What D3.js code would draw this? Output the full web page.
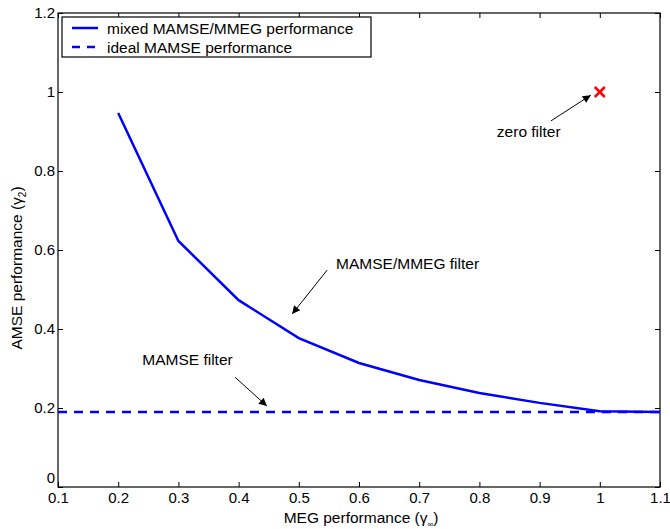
<!DOCTYPE html>
<html>
<head>
<meta charset="utf-8">
<script src="https://cdn.jsdelivr.net/npm/d3@7"></script>
<style>
  body { margin: 0; background: white; }
  text { font-family: "Liberation Sans", Arial, sans-serif; fill: #000; }
</style>
</head>
<body>
<svg width="670" height="529"></svg>
<script>
// data
var megValues = [0.2, 0.3, 0.4, 0.5, 0.6, 0.7, 0.8, 0.9, 1.0, 1.1];
var mixedAmse = [0.947, 0.623, 0.473, 0.377, 0.314, 0.271, 0.238, 0.213, 0.192, 0.19];
var idealX = [0.1, 1.1];
var idealAmse = [0.19, 0.19];
var zeroFilter = [1.0, 1.0];
var xTicks = [0.1, 0.2, 0.3, 0.4, 0.5, 0.6, 0.7, 0.8, 0.9, 1, 1.1];
var yTicks = [0, 0.2, 0.4, 0.6, 0.8, 1, 1.2];
var legendLabels = ["mixed MAMSE/MMEG performance", "ideal MAMSE performance"];

var margin = {top: 13, right: 10, bottom: 42, left: 58},
    width = 670 - margin.left - margin.right,
    height = 529 - margin.top - margin.bottom;

var svg = d3.select("svg");
var g = svg.append("g")
    .attr("transform", "translate(" + margin.left + "," + margin.top + ")");

var x = d3.scaleLinear().domain([0.1, 1.1]).range([0, width]),
    y = d3.scaleLinear().domain([0, 1.2]).range([height, 0]);

var fmt = function(d) { return String(+d.toFixed(1)); };

// axes with inward ticks, box style
function styleAxis(sel) {
  sel.select(".domain").remove();
  sel.selectAll("line").attr("stroke", "#000");
  sel.selectAll("text").style("font-size", "15px");
}
g.append("g")
    .attr("transform", "translate(0," + height + ")")
    .call(d3.axisBottom(x).tickValues(xTicks).tickFormat(fmt).tickSizeInner(-5).tickSizeOuter(0).tickPadding(5))
    .call(styleAxis);
g.append("g")
    .call(d3.axisTop(x).tickValues(xTicks).tickFormat("").tickSizeInner(-5).tickSizeOuter(0))
    .call(styleAxis);
var yAxis = g.append("g")
    .call(d3.axisLeft(y).tickValues(yTicks).tickFormat(fmt).tickSizeInner(-5).tickSizeOuter(0).tickPadding(3))
    .call(styleAxis);
// the "0" sits just above the corner like in the reference
yAxis.selectAll("text").filter(function(d) { return d === 0; }).attr("dy", "-0.3em");
g.append("g")
    .attr("transform", "translate(" + width + ",0)")
    .call(d3.axisRight(y).tickValues(yTicks).tickFormat("").tickSizeInner(-5).tickSizeOuter(0))
    .call(styleAxis);

g.append("rect")
    .attr("width", width).attr("height", height)
    .attr("fill", "none").attr("stroke", "#000").attr("stroke-width", 1.2);

// lines
var line = d3.line().x(function(d) { return x(d[0]); }).y(function(d) { return y(d[1]); });
g.append("path")
    .datum(d3.zip(idealX, idealAmse))
    .attr("d", line)
    .attr("fill", "none").attr("stroke", "#0000ff").attr("stroke-width", 2.5)
    .attr("stroke-dasharray", "9,7");
g.append("path")
    .datum(d3.zip(megValues, mixedAmse))
    .attr("d", line)
    .attr("fill", "none").attr("stroke", "#0000ff").attr("stroke-width", 2.5);

// zero filter marker
var zx = x(zeroFilter[0]), zy = y(zeroFilter[1]);
g.append("path")
    .attr("d", "M" + (zx - 5) + "," + (zy - 5) + "L" + (zx + 5) + "," + (zy + 5) +
               "M" + (zx - 5) + "," + (zy + 5) + "L" + (zx + 5) + "," + (zy - 5))
    .attr("stroke", "#ff0000").attr("stroke-width", 2.5);

// annotations
svg.append("defs").append("marker")
    .attr("id", "arr").attr("viewBox", "0 0 10 10")
    .attr("refX", 10).attr("refY", 5)
    .attr("markerWidth", 10).attr("markerHeight", 8)
    .attr("markerUnits", "userSpaceOnUse")
    .attr("orient", "auto")
  .append("path").attr("d", "M0,0L10,5L0,10Z").attr("fill", "#000");

var notes = [
  {text: "zero filter", tx: 0.829, ty: 0.886, from: [0.919, 0.927], to: [0.985, 0.992]},
  {text: "MAMSE/MMEG filter", tx: 0.562, ty: 0.551, from: [0.547, 0.549], to: [0.489, 0.438]},
  {text: "MAMSE filter", tx: 0.24, ty: 0.308, from: [0.394, 0.278], to: [0.447, 0.205]}
];
notes.forEach(function(n) {
  g.append("text").attr("x", x(n.tx)).attr("y", y(n.ty))
      .style("font-size", "15.5px").text(n.text);
  g.append("line")
      .attr("x1", x(n.from[0])).attr("y1", y(n.from[1]))
      .attr("x2", x(n.to[0])).attr("y2", y(n.to[1]))
      .attr("stroke", "#000").attr("stroke-width", 1)
      .attr("marker-end", "url(#arr)");
});

// legend
var legend = g.append("g").attr("transform", "translate(4,4)");
legend.append("rect")
    .attr("width", 309).attr("height", 40)
    .attr("fill", "white").attr("stroke", "#000").attr("stroke-width", 1.2);
legendLabels.forEach(function(lab, i) {
  var ly = 11 + i * 19;
  legend.append("line")
      .attr("x1", 10).attr("x2", 36).attr("y1", ly).attr("y2", ly)
      .attr("stroke", "#0000ff").attr("stroke-width", 2.5)
      .attr("stroke-dasharray", i === 1 ? "8,7" : null);
  legend.append("text").attr("x", 45).attr("y", ly + 5.5)
      .style("font-size", "15.5px").text(lab);
});

// axis labels
var xl = svg.append("text")
    .attr("x", margin.left + width / 2 + 2).attr("y", 523)
    .attr("text-anchor", "middle").style("font-size", "15.5px");
xl.append("tspan").text("MEG performance  (\u03b3");
xl.append("tspan").attr("dy", 4).style("font-size", "8px").text("\u221e");
xl.append("tspan").attr("dy", -4).text(")");

var yl = svg.append("text")
    .attr("transform", "translate(22," + (margin.top + height / 2 + 18) + ") rotate(-90)")
    .attr("text-anchor", "middle").style("font-size", "15.5px");
yl.append("tspan").text("AMSE performance  (\u03b3");
yl.append("tspan").attr("dy", 4).style("font-size", "10px").text("2");
yl.append("tspan").attr("dy", -4).text(")");
</script>
</body>
</html>
